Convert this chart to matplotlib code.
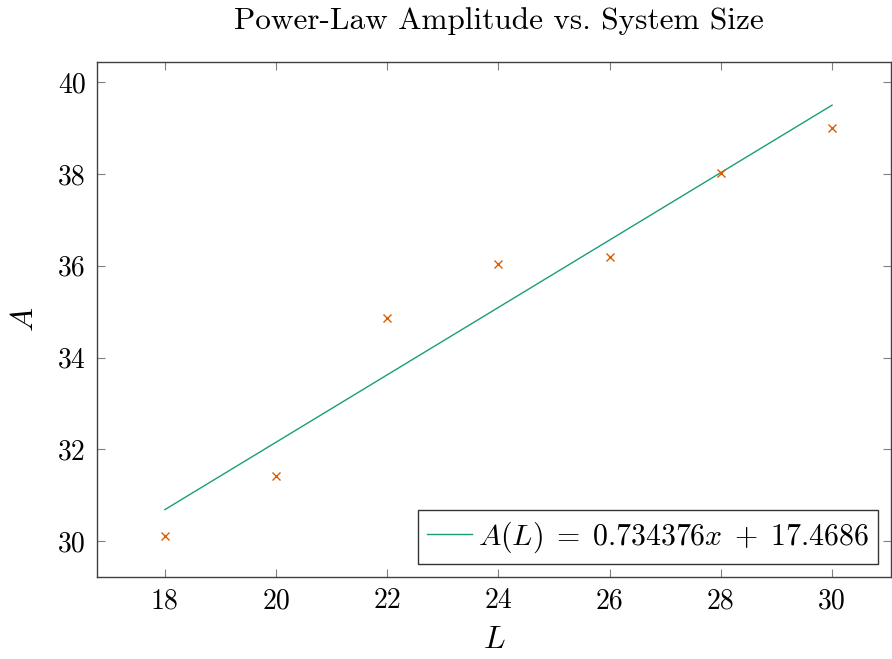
import numpy as np
import matplotlib
matplotlib.use("Agg")
import matplotlib.pyplot as plt

plt.rcParams["font.family"] = "serif"
plt.rcParams["font.serif"] = ["cmr10"]
plt.rcParams["mathtext.fontset"] = "cm"
plt.rcParams["axes.formatter.use_mathtext"] = True

# Measured amplitudes for each system size
L = [18, 20, 22, 24, 26, 28, 30]
A = [30.12, 31.42, 34.87, 36.05, 36.20, 38.02, 39.00]

# Linear fit coefficients
slope = 0.734376
intercept = 17.4686

x_ticks = [18, 20, 22, 24, 26, 28, 30]
y_ticks = [30, 32, 34, 36, 38, 40]

fig = plt.figure(figsize=(8.92, 6.59), dpi=100)
ax = fig.add_axes([97 / 892, 1 - 577 / 659, 794 / 892, 515 / 659])

fit_x = np.array([L[0], L[-1]], dtype=float)
fit_y = slope * fit_x + intercept
ax.plot(fit_x, fit_y, color="#1b9e77", lw=1.0,
        label=rf"$A(L)\;=\;{slope}x\;+\;{intercept}$")
ax.plot(L, A, linestyle="none", marker="x", ms=5.5, mew=1.0, color="#d95f02")

ax.set_xlim(16.78, 31.06)
ax.set_ylim(29.22, 40.44)
ax.set_xticks(x_ticks)
ax.set_yticks(y_ticks)
ax.set_xticklabels([str(v) for v in x_ticks])
ax.set_yticklabels([str(v) for v in y_ticks])
ax.tick_params(direction="in", top=True, right=True, length=6, width=0.8,
               color="#808080", labelsize=20, pad=8)
for s in ax.spines.values():
    s.set_color("#404040")
    s.set_linewidth(1.0)

ax.set_xlabel(r"$L$", fontsize=23, labelpad=9)
ax.set_ylabel(r"$A$", fontsize=23, labelpad=14)
ax.set_title("Power-Law Amplitude vs. System Size", fontsize=22.5, pad=24,
             x=0.506)

leg = ax.legend(loc="lower right", fontsize=21.5, frameon=True, fancybox=False,
                handlelength=1.5, handletextpad=0.2, borderpad=0.3,
                borderaxespad=0.45)
leg.get_frame().set_edgecolor("black")
leg.get_frame().set_linewidth(1.0)

fig.savefig("out.png", dpi=100)
